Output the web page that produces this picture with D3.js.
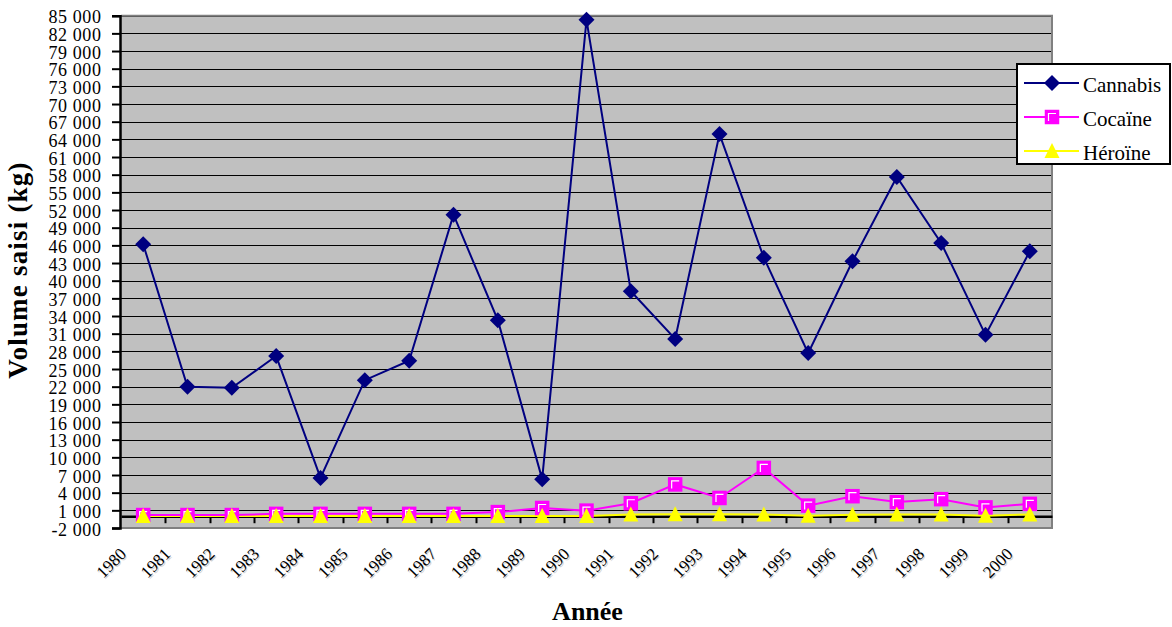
<!DOCTYPE html>
<html><head><meta charset="utf-8">
<script src="https://cdn.jsdelivr.net/npm/d3@7"></script>
<style>body{margin:0;background:#fff}svg{display:block}</style>
</head><body><svg id="c" width="1172" height="627"></svg>
<script>
const years = ["1980","1981","1982","1983","1984","1985","1986","1987","1988","1989","1990","1991","1992","1993","1994","1995","1996","1997","1998","1999","2000"];
const cannabis = [46200,22000,21800,27200,6500,23100,26400,51200,33300,6300,84300,38200,30100,64900,43900,27700,43300,57600,46400,30800,45000];
const cocaine = [200,200,200,400,400,400,400,400,700,1400,950,2200,5400,3100,8200,1800,3400,2400,2900,1500,2100];
const heroin = [50,50,50,50,50,50,50,50,50,50,50,300,350,350,300,100,250,300,300,100,300];
const seriesNames = ["Cannabis","Cocaïne","Héroïne"];
const yTicks = d3.range(-2000, 85001, 3000);
const yTitle = "Volume saisi (kg)";
const xTitle = "Année";

const FONT = "Liberation Serif";
const svg = d3.select("#c");
const L = 121, R = 1052, T = 15.7, B = 528;
const x = d3.scaleBand().domain(years).range([L, R]);
const y = d3.scaleLinear().domain([-2000, 85000]).range([B, T]);
const loc = d3.formatLocale({decimal: ",", thousands: "\u00a0", grouping: [3], currency: ["", ""], minus: "-"});
const fmt = loc.format(",d");
const cx = d => x(d) + x.bandwidth() / 2;

svg.append("rect").attr("x", L).attr("y", T).attr("width", R - L).attr("height", B - T).attr("fill", "#c0c0c0");
svg.append("g").selectAll("line").data(yTicks.filter(v => v > -2000)).join("line")
  .attr("x1", L).attr("x2", R).attr("y1", d => Math.round(y(d)) + 0.5).attr("y2", d => Math.round(y(d)) + 0.5)
  .attr("stroke", "#000").attr("stroke-width", 1);
svg.append("path").attr("d", `M${L},${T}H${R}V${B}H${L}`).attr("fill", "none").attr("stroke", "#808080").attr("stroke-width", 2);

const yAxis = d3.axisLeft(y).tickValues(yTicks).tickFormat(fmt).tickSize(8).tickPadding(10.5);
const gy = svg.append("g").attr("transform", `translate(${L - 1},0)`).call(yAxis);
gy.select(".domain").attr("stroke", "#000").attr("stroke-width", 2.5);
gy.selectAll(".tick line").attr("stroke", "#000").attr("stroke-width", 2);
gy.selectAll(".tick text").style("font-family", FONT).style("font-size", "18px").style("letter-spacing", "0.6px").attr("fill", "#000").attr("dy", "0.4em");

const xAxis = d3.axisBottom(x).tickSize(0).tickFormat("");
const gx = svg.append("g").attr("transform", `translate(0,${y(0)})`).call(xAxis);
gx.select(".domain").attr("stroke", "#000").attr("stroke-width", 2.5);
svg.append("g").selectAll("line").data(years.slice(1)).join("line")
  .attr("x1", d => Math.round(x(d)) + 0.5).attr("x2", d => Math.round(x(d)) + 0.5)
  .attr("y1", y(0)).attr("y2", y(0) + 7).attr("stroke", "#000").attr("stroke-width", 2);

const xl = svg.append("g");
[["#d0d0d0", 1.2], ["#000", 0]].forEach(([c, o]) => {
  xl.append("g").selectAll("text").data(years).join("text")
    .attr("transform", d => `translate(${cx(d) - 16 + o},${555 + o}) rotate(-45)`)
    .attr("text-anchor", "end").style("font-family", FONT).style("font-size", "17px").attr("fill", c).text(d => d);
});

const line = d3.line().x((d, i) => cx(years[i])).y(d => y(d));
svg.append("path").datum(heroin).attr("d", line).attr("fill", "none").attr("stroke", "#ffff00").attr("stroke-width", 2);
svg.append("path").datum(cocaine).attr("d", line).attr("fill", "none").attr("stroke", "#ff00ff").attr("stroke-width", 2);
svg.append("path").datum(cannabis).attr("d", line).attr("fill", "none").attr("stroke", "#000080").attr("stroke-width", 2);

function diamond(g, px, py) {
  g.append("path").attr("d", `M${px},${py - 8}L${px + 8},${py}L${px},${py + 8}L${px - 8},${py}Z`).attr("fill", "#000080");
}
function square(g, px, py) {
  g.append("rect").attr("x", px - 6.5).attr("y", py - 6.5).attr("width", 13).attr("height", 13)
    .attr("fill", "#ff00ff").attr("stroke", "#ff00ff").attr("stroke-width", 1.5);
  g.append("path").attr("d", `M${px - 3.5},${py + 4}V${py - 3.5}H${px + 4}`).attr("fill", "none").attr("stroke", "#fff").attr("stroke-width", 1.2);
}
function triangle(g, px, py) {
  g.append("path").attr("d", `M${px},${py - 8}L${px + 7.5},${py + 7}L${px - 7.5},${py + 7}Z`).attr("fill", "#ffff00");
}
const gm = svg.append("g");
cocaine.forEach((v, i) => square(gm, cx(years[i]), y(v)));
heroin.forEach((v, i) => triangle(gm, cx(years[i]), y(v)));
cannabis.forEach((v, i) => diamond(gm, cx(years[i]), y(v)));

const lg = svg.append("g");
lg.append("rect").attr("x", 1017).attr("y", 64).attr("width", 153).attr("height", 100).attr("fill", "#fff").attr("stroke", "#000").attr("stroke-width", 2);
const colors = ["#000080", "#ff00ff", "#ffff00"];
const markers = [diamond, square, triangle];
seriesNames.forEach((n, i) => {
  const ly = 83 + i * 34;
  lg.append("line").attr("x1", 1024).attr("x2", 1079).attr("y1", ly).attr("y2", ly).attr("stroke", colors[i]).attr("stroke-width", 2);
  markers[i](lg, 1052, ly);
  lg.append("text").attr("x", 1083).attr("y", ly + 8.5).style("font-family", FONT).style("font-size", "21px").text(n);
});

svg.append("text").attr("transform", "translate(27,270) rotate(-90)").attr("text-anchor", "middle")
  .style("font-family", FONT).style("font-size", "27px").style("font-weight", "bold").style("letter-spacing", "1.2px").text(yTitle);
svg.append("text").attr("x", 587.5).attr("y", 620).attr("text-anchor", "middle")
  .style("font-family", FONT).style("font-size", "26px").style("font-weight", "bold").text(xTitle);
</script></body></html>
